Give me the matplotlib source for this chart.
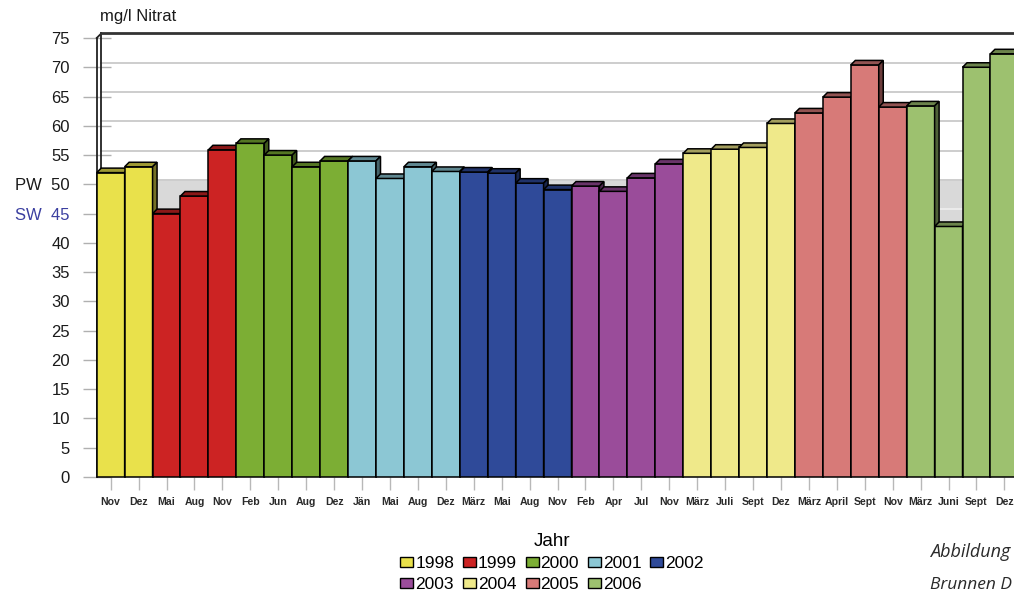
import matplotlib.pyplot as plt
from matplotlib.patches import Rectangle, Polygon, Patch
import matplotlib.colors as mcolors

plt.rcParams['font.family'] = ['Liberation Sans', 'DejaVu Sans']

# Nitrat-Messwerte je Probenahme
months = ['Nov', 'Dez',
          'Mai', 'Aug', 'Nov',
          'Feb', 'Jun', 'Aug', 'Dez',
          'Jän', 'Mai', 'Aug', 'Dez',
          'März', 'Mai', 'Aug', 'Nov',
          'Feb', 'Apr', 'Jul', 'Nov',
          'März', 'Juli', 'Sept', 'Dez',
          'März', 'April', 'Sept', 'Nov',
          'März', 'Juni', 'Sept', 'Dez']
years = ['1998'] * 2 + ['1999'] * 3 + ['2000'] * 4 + ['2001'] * 4 + ['2002'] * 4 \
    + ['2003'] * 4 + ['2004'] * 4 + ['2005'] * 4 + ['2006'] * 4
values = [52.0, 53.0,
          45.0, 48.0, 55.9,
          57.0, 55.0, 53.0, 54.0,
          54.0, 51.0, 53.0, 52.2,
          52.1, 51.9, 50.2, 49.1,
          49.7, 48.8, 51.1, 53.5,
          55.3, 56.0, 56.3, 60.4,
          62.2, 64.9, 70.4, 63.2,
          63.4, 42.8, 70.0, 72.3]

year_labels = ['1998', '1999', '2000', '2001', '2002', '2003', '2004', '2005', '2006']
year_colors = ['#e9e14b', '#cc2323', '#7cae34', '#8cc7d4', '#2f4a99',
               '#9a4c9a', '#efe98a', '#d77a78', '#9dc16f']

pw_limit = 50
sw_limit = 45

color_of = dict(zip(year_labels, year_colors))


def shade(c, f):
    r, g, b = mcolors.to_rgb(c)
    return (r * f, g * f, b * f)


fig = plt.figure(figsize=(10.14, 5.93), dpi=100)
ax = fig.add_axes([96.7 / 1014, 1 - 477 / 593, 33 * 27.93 / 1014, 439 / 593])
ax.set_xlim(0, 33)
ax.set_ylim(0, 75)
for s in ax.spines.values():
    s.set_visible(False)
ax.set_axisbelow(True)

# depth of the pseudo-3D look, in data units
dx = 4.5 / 27.93
dy = 4.5 / 5.853
xmax = 34

# back wall: band between the limits and grid lines
ax.add_patch(Rectangle((dx, 40 + dy), xmax, pw_limit - 40, fc='#d9d9d9', ec='none',
                       zorder=0.6, clip_on=False))
for v in range(5, 75, 5):
    col = '#ececec' if 40 <= v < pw_limit else '#cdcdcd'
    ax.plot([dx, xmax], [v + dy, v + dy], color=col, lw=1.4, zorder=0.7, clip_on=False)

# left wall and top edge
wall = dict(color='#222222', lw=1.3, zorder=0.8, clip_on=False)
ax.plot([0, 0], [0, 75], **wall)
ax.plot([dx, dx], [dy, 75 + dy], **wall)
ax.plot([0, dx], [75, 75 + dy], **wall)
ax.plot([dx, xmax], [75 + dy, 75 + dy], color='#333333', lw=2.0, zorder=0.8, clip_on=False)

# bars
for i, (v, y) in enumerate(zip(values, years)):
    c = color_of[y]
    ax.add_patch(Rectangle((i, 0), 1, v, fc=c, ec='black', lw=1.1, zorder=2,
                           clip_on=False))
    ax.add_patch(Polygon([(i, v), (i + 1, v), (i + 1 + dx, v + dy), (i + dx, v + dy)],
                         closed=True, fc=shade(c, 0.68), ec='black', lw=1.1, zorder=2,
                         clip_on=False))
    ax.add_patch(Polygon([(i + 1, 0), (i + 1 + dx, dy), (i + 1 + dx, v + dy), (i + 1, v)],
                         closed=True, fc=shade(c, 0.5), ec='black', lw=1.1, zorder=2,
                         clip_on=False))

# y axis
yt = list(range(0, 80, 5))
ylabels = []
for v in yt:
    if v == pw_limit:
        ylabels.append('PW  50')
    elif v == sw_limit:
        ylabels.append('SW  45')
    else:
        ylabels.append(str(v))
ax.set_yticks(yt)
ax.set_yticklabels(ylabels, fontsize=12, color='#1a1a1a')
ax.tick_params(axis='y', direction='inout', length=19.5, width=1.0, color='#b0b0b0',
               pad=9.5)
for t in ax.get_yticklabels():
    if t.get_text().startswith('SW'):
        t.set_color('#3b3fa0')

# x axis
ax.set_xticks([i + 0.5 for i in range(len(months))])
ax.set_xticklabels(months, fontsize=7.6, fontweight='bold', color='#2a2a2a')
ax.tick_params(axis='x', direction='out', length=9.5, width=1.0, color='#b8b8b8', pad=5)

fig.text(100 / 1014, 1 - 17 / 593, 'mg/l Nitrat', fontsize=12, va='center', ha='left',
         color='#1a1a1a')

# legend, row-major order over two rows
order = [0, 5, 1, 6, 2, 7, 3, 8, 4]
handles = [Patch(fc=year_colors[k], ec='black', lw=1.0) for k in order]
labels = [year_labels[k] for k in order]
leg = fig.legend(handles, labels, ncol=5, title='Jahr', loc='upper center',
                 bbox_to_anchor=(552 / 1014, 1 - 524 / 593), frameon=False,
                 fontsize=12.5, title_fontsize=13.5, handlelength=0.75,
                 handleheight=0.5, handletextpad=0.12, columnspacing=0.5,
                 labelspacing=0.35, borderpad=0.0)

fig.text(930 / 1014, 1 - 557 / 593, 'Abbildung', fontsize=13, style='italic',
         family='Open Sans', color='#2a2a2a', va='baseline')
fig.text(930 / 1014, 1 - 589 / 593, 'Brunnen D', fontsize=12.5, style='italic',
         family='Open Sans', color='#2a2a2a', va='baseline')

fig.savefig('out.png', dpi=100)
